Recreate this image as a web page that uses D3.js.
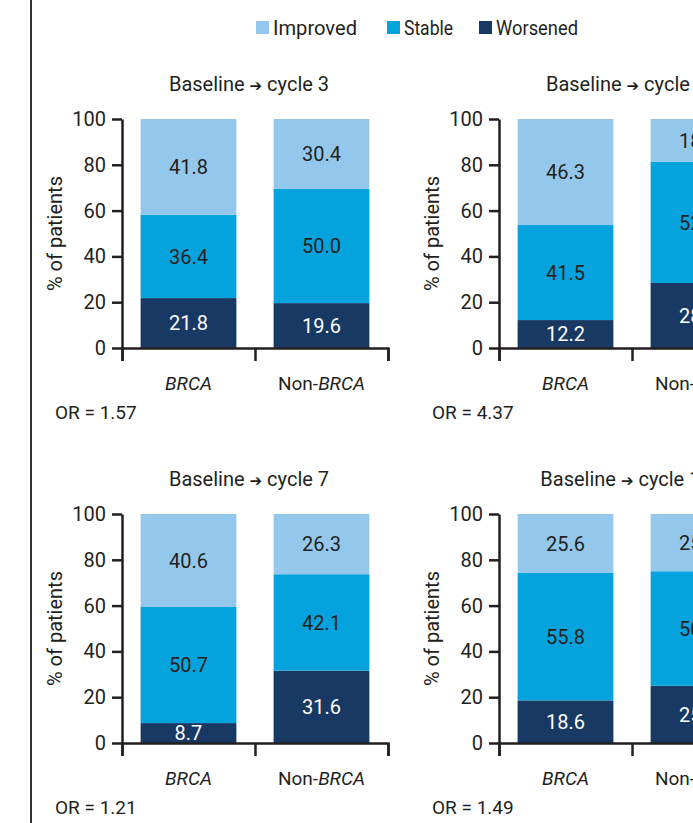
<!DOCTYPE html>
<html>

<head>
    <meta charset="UTF-8">
    <title>Change by cycle, BRCA vs non-BRCA</title>
    <script src="https://d3js.org/d3.v7.min.js"></script>
    <style>
        body { margin: 0; background: #fff; }
        text { font-family: Roboto, "Liberation Sans", sans-serif; fill: #231f20; }
    </style>
</head>

<body>
    <script>
        // values (right-hand bars are partly cut off, so estimated)
        const panelTitles = ["cycle 3", "cycle 5", "cycle 7", "cycle 11"];
        const groups = ["BRCA", "Non-BRCA"];
        const improved = [[41.8, 30.4], [46.3, 18.7], [40.6, 26.3], [25.6, 25.0]];
        const stable = [[36.4, 50.0], [41.5, 52.9], [50.7, 42.1], [55.8, 50.0]];
        const worsened = [[21.8, 19.6], [12.2, 28.4], [8.7, 31.6], [18.6, 25.0]];
        const oddsRatios = ["1.57", "4.37", "1.21", "1.49"];
        const yTicks = [0, 20, 40, 60, 80, 100];
        const seriesNames = ["Improved", "Stable", "Worsened"];
        const colors = ["#93c8ec", "#05a3dd", "#173964"];
        const labelColors = ["#231f20", "#231f20", "#ffffff"];

        const width = 693, height = 823;
        const plotW = 266, plotH = 229;
        const origins = [[122, 119], [499, 119], [122, 514], [499, 514]];

        const svg = d3.select("body").append("svg")
            .attr("width", width).attr("height", height);

        // left frame line
        svg.append("line")
            .attr("x1", 31).attr("x2", 31).attr("y1", 0).attr("y2", height)
            .attr("stroke", "#333").attr("stroke-width", 2);

        // legend
        const legendX = [256, 387, 479];
        const legend = svg.selectAll("g.legend").data(seriesNames).enter().append("g")
            .attr("transform", (d, i) => `translate(${legendX[i]},21)`);
        legend.append("rect").attr("width", 13).attr("height", 13).attr("fill", (d, i) => colors[i]);
        legend.append("text").attr("x", 17).attr("y", 14).attr("font-size", 20)
            .attr("textLength", (d, i) => [84, 49, 82][i]).attr("lengthAdjust", "spacingAndGlyphs")
            .text(d => d);

        const y = d3.scaleLinear().domain([0, 100]).range([plotH, 0]);
        const x = d3.scaleBand().domain(groups).range([0, plotW]).paddingInner(0.28).paddingOuter(0.14);
        const xEdges = d3.scaleLinear().domain([0, 2]).range([0, plotW]);

        panelTitles.forEach((title, p) => {
            const g = svg.append("g").attr("transform", `translate(${origins[p][0]},${origins[p][1]})`);

            const rows = groups.map((grp, i) => ({
                group: grp,
                Worsened: worsened[p][i],
                Stable: stable[p][i],
                Improved: improved[p][i]
            }));
            const stack = d3.stack().keys(["Worsened", "Stable", "Improved"])(rows);

            stack.forEach(layer => {
                const k = seriesNames.indexOf(layer.key);
                g.selectAll(null).data(layer).enter().append("rect")
                    .attr("x", d => x(d.data.group))
                    .attr("width", x.bandwidth())
                    .attr("y", d => y(d[1]))
                    .attr("height", d => y(d[0]) - y(d[1]))
                    .attr("fill", colors[k]);
                g.selectAll(null).data(layer).enter().append("text")
                    .attr("x", d => x(d.data.group) + x.bandwidth() / 2)
                    .attr("y", d => (y(d[0]) + y(d[1])) / 2)
                    .attr("dy", "0.36em")
                    .attr("text-anchor", "middle")
                    .attr("font-size", 20)
                    .style("fill", labelColors[k])
                    .text(d => d.data[layer.key].toFixed(1));
            });

            // axes
            const yAxis = g.append("g").call(d3.axisLeft(y).tickValues(yTicks).tickSize(10).tickSizeOuter(0).tickPadding(6));
            const xAxis = g.append("g").attr("transform", `translate(0,${plotH})`)
                .call(d3.axisBottom(xEdges).tickValues([0, 1, 2]).tickSize(13).tickSizeOuter(13).tickFormat(""));
            [yAxis, xAxis].forEach(a => {
                a.selectAll("path, line").attr("stroke", "#231f20").attr("stroke-width", 2.5);
                a.selectAll("text").attr("font-size", 20).style("fill", "#231f20")
                    .attr("font-family", "Roboto, sans-serif");
            });

            // category labels
            g.selectAll("text.cat").data(groups).enter().append("text")
                .attr("x", d => x(d) + x.bandwidth() / 2)
                .attr("y", plotH + 42)
                .attr("text-anchor", "middle")
                .attr("font-size", 19)
                .each(function (d) {
                    const t = d3.select(this);
                    if (d.startsWith("Non-")) {
                        t.append("tspan").text("Non-");
                        t.append("tspan").attr("font-style", "italic").text("BRCA");
                    } else {
                        t.append("tspan").attr("font-style", "italic").text(d);
                    }
                });

            // panel title
            const tt = g.append("text")
                .attr("x", plotW / 2 - 6).attr("y", -28)
                .attr("text-anchor", "middle").attr("font-size", 20);
            tt.append("tspan").text("Baseline ");
            tt.append("tspan").attr("font-size", 15).attr("font-family", "DejaVu Sans").attr("font-weight", "bold").text("➔");
            tt.append("tspan").text(" " + title);

            // y label
            g.append("text")
                .attr("transform", `translate(-60,${plotH / 2}) rotate(-90)`)
                .attr("text-anchor", "middle").attr("font-size", 20)
                .text("% of patients");

            // odds ratio
            g.append("text")
                .attr("x", -67).attr("y", plotH + 71)
                .attr("font-size", 19)
                .text("OR = " + oddsRatios[p]);
        });
    </script>
</body>

</html>
